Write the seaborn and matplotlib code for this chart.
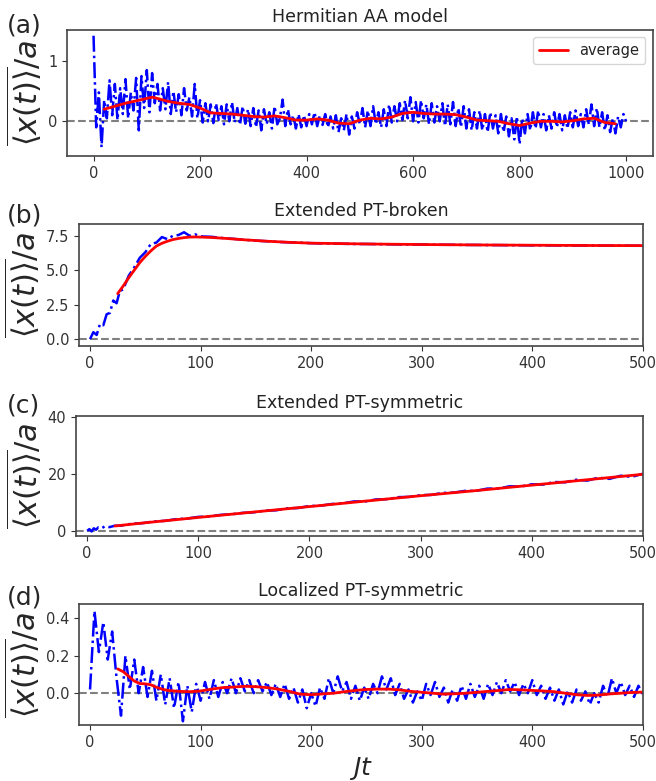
import numpy as np
import seaborn as sns
import matplotlib
matplotlib.use("Agg")
import matplotlib.pyplot as plt

# ---- data ----

# (a) Hermitian AA model, blue samples every 5 units of Jt
a_step = 5
a_blue = [
    1.42, -0.10, 0.48, -0.43, 0.35, 0.05, 0.68, 0.10, 0.62, 0.02,
    0.55, 0.12, 0.70, 0.05, 0.48, 0.18, 0.72, -0.15, 0.75, 0.22,
    0.85, 0.15, 0.80, 0.30, 0.62, 0.18, 0.55, 0.20, 0.65, 0.12,
    0.50, 0.15, 0.45, 0.10, 0.55, 0.18, 0.40, 0.08, 0.62, 0.05,
    0.35, -0.02, 0.30, 0.00, 0.28, -0.03, 0.30, 0.02, 0.25, -0.05,
    0.28, 0.00, 0.32, -0.02, 0.22, -0.06, 0.25, -0.04, 0.20, -0.08,
    0.22, -0.10, 0.18, -0.15, 0.20, -0.05, 0.15, -0.12, 0.25, -0.05,
    0.05, 0.36, -0.08, 0.20, -0.05, 0.10, -0.12, 0.12, -0.10, 0.10,
    -0.08, 0.12, -0.05, 0.15, -0.08, 0.10, -0.06, 0.12, -0.10, 0.08,
    -0.12, 0.10, -0.18, 0.05, -0.15, 0.12, -0.22, 0.08, -0.12, 0.15,
    -0.05, 0.22, -0.10, 0.18, -0.08, 0.25, -0.05, 0.15, -0.10, 0.20,
    -0.08, 0.28, -0.02, 0.25, 0.00, 0.30, 0.02, 0.35, 0.05, 0.40,
    0.00, 0.32, -0.02, 0.35, 0.05, 0.28, -0.05, 0.30, -0.02, 0.25,
    0.00, 0.30, -0.08, 0.28, -0.05, 0.32, -0.08, 0.22, -0.10, 0.25,
    -0.12, 0.20, -0.15, 0.15, -0.12, 0.18, -0.15, 0.12, -0.18, 0.15,
    -0.12, 0.10, -0.20, 0.12, -0.18, 0.08, -0.25, 0.05, -0.30, 0.08,
    -0.38, 0.05, -0.20, 0.12, -0.15, 0.15, -0.12, 0.18, -0.10, 0.12,
    -0.15, 0.10, -0.12, 0.15, -0.10, 0.12, -0.15, 0.10, -0.12, 0.15,
    -0.10, 0.18, -0.08, 0.12, -0.10, 0.20, -0.05, 0.28, -0.08, 0.22,
    -0.10, 0.15, -0.15, 0.10, -0.18, 0.05, -0.20, 0.08, -0.10, 0.12,
    0.00,
]
a_red_t = [20, 40, 60, 80, 100, 110, 120, 140, 160, 180, 200, 220, 240, 260,
           280, 300, 320, 340, 360, 380, 400, 420, 440, 460, 480, 500, 520,
           540, 560, 580, 600, 620, 640, 660, 680, 700, 720, 740, 760, 780,
           800, 820, 840, 860, 880, 900, 920, 940, 960, 980]
a_red = [0.20, 0.25, 0.30, 0.34, 0.38, 0.40, 0.38, 0.33, 0.30, 0.28, 0.22,
         0.14, 0.13, 0.12, 0.10, 0.08, 0.07, 0.09, 0.06, 0.02, 0.02, 0.04,
         0.02, -0.03, -0.04, 0.02, 0.05, 0.04, 0.07, 0.13, 0.15, 0.13, 0.12,
         0.12, 0.11, 0.07, 0.02, 0.01, 0.00, -0.04, -0.07, -0.03, 0.00,
         0.00, -0.01, 0.01, 0.04, 0.05, -0.02, -0.04]

# (b) Extended PT-broken
b_t = [0, 3, 6, 9, 12, 15, 18, 21, 24, 27, 30, 35, 40, 45, 50, 55, 60, 65,
       70, 75, 80, 85, 90, 95, 100, 110, 120, 130, 140, 150, 160, 170, 180,
       190, 200, 210, 220, 230, 240, 250, 260, 270, 280, 290, 300, 310, 320,
       330, 340, 350, 360, 370, 380, 390, 400, 410, 420, 430, 440, 450, 460,
       470, 480, 490, 500]
b_blue = [0.0, 0.5, 0.3, 1.1, 1.0, 1.8, 1.9, 2.8, 2.6, 3.5, 3.6, 4.6, 5.2,
          5.9, 6.3, 6.9, 7.0, 7.4, 7.25, 7.5, 7.55, 7.75, 7.5, 7.6, 7.45,
          7.42, 7.33, 7.27, 7.2, 7.14, 7.1, 7.05, 7.02, 6.99, 6.96, 6.94,
          6.93, 6.91, 6.9, 6.9, 6.89, 6.88, 6.87, 6.86, 6.86, 6.85, 6.84,
          6.84, 6.83, 6.83, 6.82, 6.82, 6.81, 6.81, 6.8, 6.8, 6.8, 6.79,
          6.79, 6.79, 6.78, 6.78, 6.78, 6.77, 6.77]
b_red_t = [25, 30, 35, 40, 45, 50, 55, 60, 65, 70, 75, 80, 85, 90, 95, 100,
           110, 120, 140, 160, 180, 200, 250, 300, 350, 400, 450, 500]
b_red = [3.3, 3.85, 4.45, 5.0, 5.55, 6.0, 6.4, 6.75, 6.95, 7.1, 7.22, 7.3,
         7.36, 7.4, 7.41, 7.4, 7.37, 7.32, 7.2, 7.1, 7.02, 6.96, 6.9, 6.86,
         6.83, 6.81, 6.79, 6.78]

# (c) Extended PT-symmetric
c_t = [0, 2, 4, 6, 8, 10, 13, 16, 20, 25, 30, 40, 50, 60, 70, 80, 90, 100,
       110, 120, 130, 140, 150, 160, 170, 180, 190, 200, 210, 220, 230, 240,
       250, 260, 270, 280, 290, 300, 310, 320, 330, 340, 350, 360, 370, 380,
       390, 400, 410, 420, 430, 440, 450, 460, 470, 480, 490, 500]
c_blue = [0.0, 0.6, -0.2, 0.9, 0.4, 1.2, 0.9, 1.6, 1.3, 1.8, 1.8, 2.5, 2.7,
          3.3, 3.5, 4.1, 4.3, 4.9, 5.0, 5.6, 5.8, 6.3, 6.5, 7.1, 7.2, 7.9,
          8.0, 8.7, 8.8, 9.4, 9.6, 10.3, 10.3, 11.0, 11.1, 11.8, 11.9, 12.5,
          12.6, 13.3, 13.4, 14.0, 14.0, 14.8, 14.8, 15.6, 15.5, 16.3, 16.2,
          17.1, 17.0, 17.9, 17.6, 18.6, 18.2, 19.3, 18.9, 20.0]
c_red_t = [25, 50, 100, 150, 200, 250, 300, 350, 400, 450, 500]
c_red = [1.7, 2.75, 4.7, 6.6, 8.5, 10.4, 12.3, 14.1, 16.0, 17.9, 19.8]

# (d) Localized PT-symmetric, blue samples every 4 units of Jt
d_step = 4
d_blue = [
    0.02, 0.44, 0.22, 0.38, 0.18, 0.33, 0.08, -0.12, 0.20, 0.02,
    0.18, 0.00, 0.14, -0.02, 0.12, -0.04, 0.10, -0.06, 0.08, -0.08,
    0.06, -0.15, 0.04, -0.10, 0.05, -0.04, 0.06, -0.03, 0.07, -0.02,
    0.06, 0.00, 0.08, 0.00, 0.08, 0.01, 0.07, 0.00, 0.07, 0.01,
    0.06, -0.01, 0.05, -0.02, 0.05, -0.03, 0.03, -0.05, 0.02, -0.08,
    0.00, -0.07, 0.03, -0.03, 0.08, 0.00, 0.09, 0.01, 0.06, -0.03,
    0.04, -0.04, 0.03, -0.03, 0.05, 0.00, 0.09, 0.02, 0.08, -0.01,
    0.05, -0.03, 0.02, -0.05, 0.01, -0.04, 0.05, -0.01, 0.06, -0.02,
    0.03, -0.05, 0.02, -0.04, 0.04, -0.03, 0.05, -0.02, 0.04, -0.03,
    0.05, -0.01, 0.06, 0.00, 0.07, 0.01, 0.06, -0.01, 0.05, 0.00,
    0.07, -0.01, 0.04, -0.03, 0.03, -0.04, 0.02, -0.06, 0.01, -0.05,
    0.02, -0.04, 0.01, -0.06, 0.00, -0.05, 0.04, -0.02, 0.08, 0.00,
    0.06, -0.01, 0.04, -0.02, 0.04, -0.01,
]
d_red_t = [25, 30, 35, 40, 45, 50, 55, 60, 65, 70, 80, 90, 100, 110, 120,
           130, 140, 150, 160, 170, 180, 190, 200, 210, 220, 230, 240, 250,
           260, 270, 280, 290, 300, 310, 320, 330, 340, 350, 360, 370, 380,
           390, 400, 410, 420, 430, 440, 450, 460, 470, 480, 490, 500]
d_red = [0.13, 0.115, 0.09, 0.065, 0.052, 0.05, 0.045, 0.032, 0.022, 0.015,
         0.01, 0.008, 0.012, 0.022, 0.03, 0.033, 0.037, 0.035, 0.03, 0.022,
         0.01, -0.005, -0.008, -0.004, 0.0, 0.008, 0.015, 0.02, 0.022,
         0.022, 0.018, 0.01, 0.005, 0.0, -0.005, -0.003, 0.0, 0.005, 0.01,
         0.015, 0.02, 0.018, 0.015, 0.012, 0.008, 0.0, -0.008, -0.012,
         -0.01, -0.004, 0.0, 0.004, 0.006]

a_t = np.arange(len(a_blue)) * a_step
d_t = np.arange(len(d_blue)) * d_step

titles = ["Hermitian AA model", "Extended PT-broken",
          "Extended PT-symmetric", "Localized PT-symmetric"]
tags = ["(a)", "(b)", "(c)", "(d)"]

# ---- style ----
sns.set_style("ticks")
plt.rcParams["font.family"] = ["DejaVu Sans"]
plt.rcParams["mathtext.fontset"] = "dejavusans"
plt.rcParams["xtick.major.size"] = 3.5
plt.rcParams["ytick.major.size"] = 3.5
plt.rcParams["axes.edgecolor"] = "#444444"
plt.rcParams["axes.linewidth"] = 1.2

fig = plt.figure(figsize=(6.56, 7.81), dpi=100)

boxes = [
    [0.102, 0.8003, 0.893, 0.1613],
    [0.1204, 0.557, 0.8596, 0.1562],
    [0.1159, 0.3137, 0.8641, 0.1536],
    [0.1204, 0.0717, 0.8596, 0.1549],
]
series = [
    (a_t, a_blue, a_red_t, a_red),
    (b_t, b_blue, b_red_t, b_red),
    (c_t, c_blue, c_red_t, c_red),
    (d_t, d_blue, d_red_t, d_red),
]
tag_y = [25, 216, 405, 597]

ylabel = r"$\overline{\langle x(t)\rangle}/a$"

axes = []
for i, (box, (t, blue, rt, red)) in enumerate(zip(boxes, series)):
    ax = fig.add_axes(box)
    axes.append(ax)
    sns.lineplot(x=t, y=blue, ax=ax, color="blue", linestyle="-.",
                 linewidth=1.8, estimator=None, sort=False)
    sns.lineplot(x=rt, y=red, ax=ax, color="red", linewidth=2,
                 estimator=None, sort=False,
                 label="average" if i == 0 else None)
    ax.axhline(0, color="gray", linestyle="--", linewidth=1.5, zorder=0)
    ax.set_title(titles[i], fontsize=12.5, color="#222222")
    ax.set_ylabel(ylabel, fontsize=22, labelpad=2)
    ax.tick_params(labelsize=10.5, colors="#333333")
    fig.text(0.011, 1 - tag_y[i] / 781, tags[i], fontsize=18,
             va="center", ha="left")

# axis ranges and ticks
axes[0].set_xlim(-50, 1050)
axes[0].set_ylim(-0.575, 1.515)
axes[0].set_yticks([0, 1])
axes[0].legend(loc="upper right", fontsize=10.5)

for ax in axes[1:]:
    ax.set_xlim(-10, 500)
    ax.set_xticks([0, 100, 200, 300, 400, 500])

axes[1].set_ylim(-0.5, 8.35)
axes[1].set_yticks([0.0, 2.5, 5.0, 7.5])
axes[1].set_yticklabels(["0.0", "2.5", "5.0", "7.5"])
axes[2].set_ylim(-1.8, 40.2)
axes[2].set_yticks([0, 20, 40])
axes[3].set_ylim(-0.17, 0.477)
axes[3].set_yticks([0.0, 0.2, 0.4])
axes[3].set_yticklabels(["0.0", "0.2", "0.4"])

axes[3].set_xlabel(r"$Jt$", fontsize=18)

fig.savefig("out.png", dpi=100)
